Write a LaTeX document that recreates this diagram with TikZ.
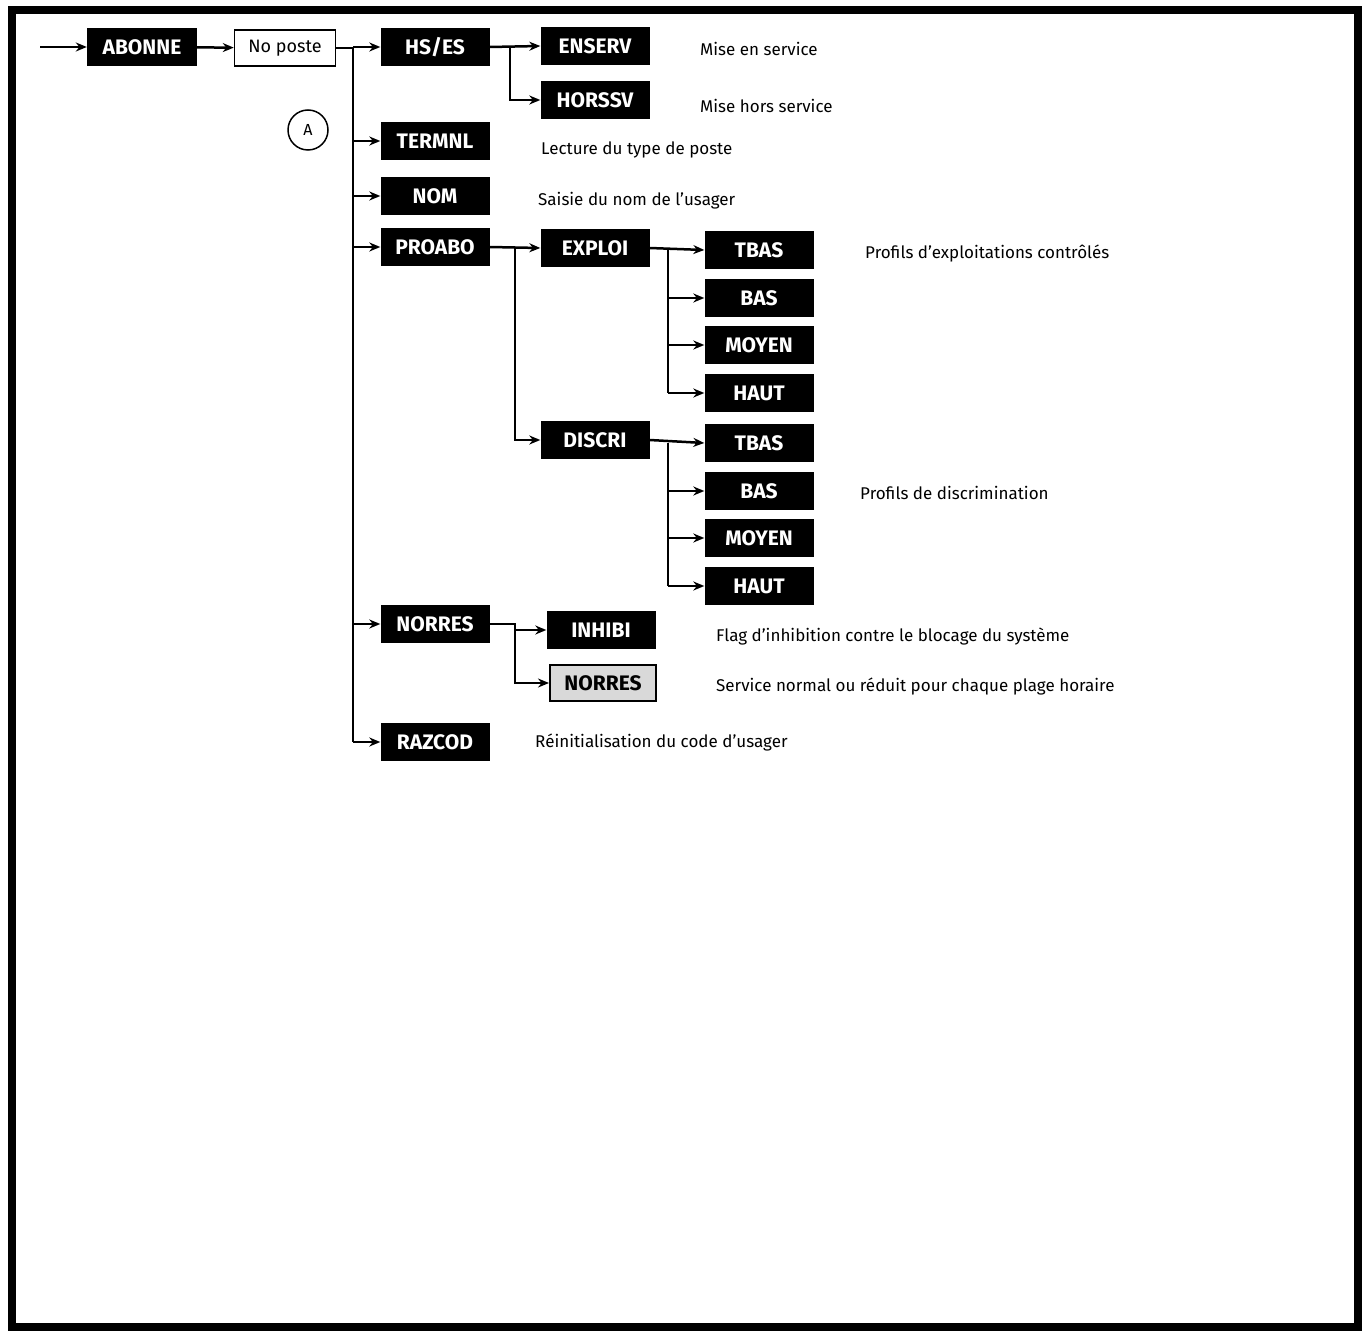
\documentclass[tikz,border=0pt]{standalone}
\usepackage{fontspec}
\setmainfont{Fira Sans}
\usetikzlibrary{arrows.meta}
\begin{document}
\begin{tikzpicture}[x=1pt,y=-1pt,
 blk/.style={fill=black,text=white,font=\fontsize{21}{21}\selectfont\bfseries,minimum width=109pt,minimum height=38pt,inner sep=0pt},
 gry/.style={fill=black!15,draw=black,line width=2pt,font=\fontsize{21}{21}\selectfont\bfseries,minimum width=106pt,minimum height=36pt,inner sep=0pt},
 txt/.style={anchor=west,font=\fontsize{17}{17}\selectfont,inner sep=0pt},
 ln/.style={line width=2.5pt},
 ar/.style={line width=2.5pt,-{Stealth[length=11pt,width=9pt]}}]
\useasboundingbox (0,0) rectangle (1370,1337);
\draw[line width=8pt] (12,10) rectangle (1358,1327);
\coordinate (start) at (40,47);
\node[blk,minimum width=110pt] (abonne) at (142,47) {ABONNE};
\node[draw,line width=1.5pt,minimum width=101pt,minimum height=36pt,inner sep=0pt,font=\fontsize{18}{18}\selectfont] (poste) at (285,48) {No poste};
\draw[ar] (start) -- (abonne);
\draw[ar] (abonne) -- (poste);
\node[draw,circle,line width=1.5pt,minimum size=40pt,inner sep=0pt,font=\fontsize{16}{16}\selectfont] (A) at (308,130) {A};
% level 1
\node[blk] (hses) at (435,47) {HS/ES};
\node[blk] (termnl) at (435,141) {TERMNL};
\node[blk] (nom) at (435,196) {NOM};
\node[blk] (proabo) at (435,247) {PROABO};
\node[blk] (norres) at (435,624) {NORRES};
\node[blk] (razcod) at (435,742) {RAZCOD};
\coordinate (t0) at (353,48);
\draw[ln] (poste.east) -- (t0) -- (353,742);
\foreach \n in {hses,termnl,nom,proabo,norres,razcod}
  \draw[ar] (353,0 |- \n.west) -- (\n.west);
% HS/ES
\node[blk] (enserv) at (595,46) {ENSERV};
\node[blk] (horssv) at (595,100) {HORSSV};
\draw[ar] (hses.east) -- (enserv.west);
\draw[ar] (510,47) |- (horssv.west);
\node[txt] (t1) at (700,49) {Mise en service};
\node[txt] (t2) at (700,106) {Mise hors service};
\node[txt] (t3) at (541,150) {Lecture du type de poste};
\node[txt] (t4) at (538,201) {Saisie du nom de l’usager};
% PROABO
\node[blk] (exploi) at (595,248) {EXPLOI};
\node[blk] (discri) at (595,440) {DISCRI};
\draw[ar] (proabo.east) -- (exploi.west);
\draw[ar] (515,248) |- (discri.west);
\foreach \y/\l/\nm in {250/TBAS/e1,298/BAS/e2,345/MOYEN/e3,393/HAUT/e4}
  \node[blk] (\nm) at (759,\y) {\l};
\foreach \y/\l/\nm in {443/TBAS/d1,491/BAS/d2,538/MOYEN/d3,586/HAUT/d4}
  \node[blk] (\nm) at (759,\y) {\l};
\draw[ar] (exploi.east) -- (e1.west);
\draw[ln] (668,250) -- (668,393);
\foreach \nm in {e2,e3,e4} \draw[ar] (668,0 |- \nm.west) -- (\nm.west);
\draw[ar] (discri.east) -- (d1.west);
\draw[ln] (668,443) -- (668,586);
\foreach \nm in {d2,d3,d4} \draw[ar] (668,0 |- \nm.west) -- (\nm.west);
\node[txt] (t5) at (865,254) {Profils d’exploitations contrôlés};
\node[txt] (t6) at (860,493) {Profils de discrimination};
% NORRES
\node[blk] (inhibi) at (601,630) {INHIBI};
\node[gry] (norres2) at (603,683) {NORRES};
\draw[ar] (norres.east) -- (515,624) -- (515,630) -- (inhibi.west);
\draw[ar] (515,630) |- (norres2.west);
\node[txt] (t7) at (716,636) {Flag d’inhibition contre le blocage du système};
\node[txt] (t8) at (716,686) {Service normal ou réduit pour chaque plage horaire};
\node[txt] (t9) at (535,742) {Réinitialisation du code d’usager};
\end{tikzpicture}
\end{document}
